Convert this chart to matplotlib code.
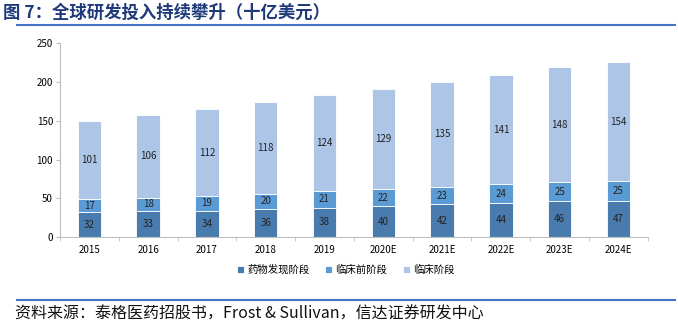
import matplotlib
matplotlib.use("Agg")
import matplotlib.pyplot as plt
import numpy as np

plt.rcParams['font.family'] = ['Noto Sans CJK SC', 'DejaVu Sans']

years = ["2015", "2016", "2017", "2018", "2019", "2020E", "2021E", "2022E", "2023E", "2024E"]
discovery = [32, 33, 34, 36, 38, 40, 42, 44, 46, 47]
preclinical = [17, 18, 19, 20, 21, 22, 23, 24, 25, 25]
clinical = [101, 106, 112, 118, 124, 129, 135, 141, 148, 154]
series_names = ["药物发现阶段", "临床前阶段", "临床阶段"]
colors = ["#4A7BAE", "#5B9BD5", "#ADC6E7"]

fig = plt.figure(figsize=(6.78, 3.27), dpi=100)
ax = fig.add_axes([0.0885, 0.275, 0.867, 0.593])

x = np.arange(len(years))
bottom = np.zeros(len(years))
for vals, name, c in zip([discovery, preclinical, clinical], series_names, colors):
    ax.bar(x, vals, 0.4, bottom=bottom, color=c, edgecolor="white", linewidth=0.6, label=name)
    for xi, b, v in zip(x, bottom, vals):
        ax.text(xi, b + v / 2, str(v), ha="center", va="center", fontsize=7, color="#222222")
    bottom += np.array(vals)

ax.set_xlim(-0.5, len(years) - 0.5)
ax.set_ylim(0, 250)
ax.set_yticks(range(0, 251, 50))
ax.set_xticks(x)
ax.set_xticklabels(years)
ax.set_xticks(np.arange(-0.5, len(years), 1), minor=True)
ax.tick_params(axis="x", which="major", length=0, labelsize=7, pad=6)
ax.tick_params(axis="x", which="minor", length=3, color="#BFBFBF", direction="out")
ax.tick_params(axis="y", labelsize=7, length=3, color="#BFBFBF", pad=2)
for s in ["top", "right"]:
    ax.spines[s].set_visible(False)
for s in ["left", "bottom"]:
    ax.spines[s].set_color("#BFBFBF")

fig.legend(loc="center", bbox_to_anchor=(0.51, 0.175), ncol=3, frameon=False,
           fontsize=7.5, handlelength=0.7, handleheight=0.7, handletextpad=0.3, columnspacing=1.5)

fig.text(0.005, 0.962, "图 7：全球研发投入持续攀升（十亿美元）", fontsize=12.5, fontweight="bold",
         color="#1F3A7A", va="center", ha="left")
fig.add_artist(plt.Line2D([0.025, 0.995], [0.923, 0.923], color="#4472C4", linewidth=1.5, transform=fig.transFigure))
fig.add_artist(plt.Line2D([0.025, 0.995], [0.082, 0.082], color="#4472C4", linewidth=1.5, transform=fig.transFigure))
fig.text(0.022, 0.04, "资料来源：泰格医药招股书，Frost & Sullivan，信达证券研发中心", fontsize=11.5,
         style="italic", color="#111111", va="center", ha="left")

fig.savefig("out.png", dpi=100)
